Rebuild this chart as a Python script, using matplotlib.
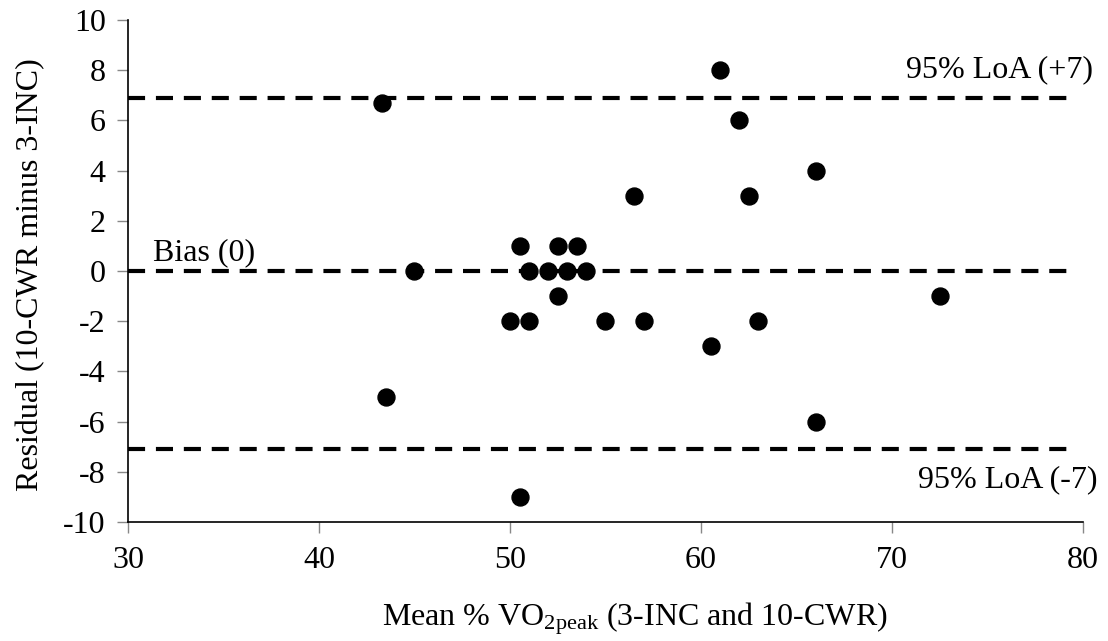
import matplotlib
matplotlib.use("Agg")
import matplotlib.pyplot as plt

plt.rcParams['font.family'] = ['Liberation Serif', 'DejaVu Serif']
plt.rcParams['mathtext.default'] = 'regular'
plt.rcParams['axes.unicode_minus'] = False

mean_vo2 = [43.3, 61.0, 62.0, 66.0, 56.5, 62.5, 50.5, 52.5, 53.5, 45.0, 51.0, 52.0, 53.0, 54.0,
            52.5, 72.5, 50.0, 51.0, 55.0, 57.0, 63.0, 60.5, 43.5, 66.0, 50.5]
residual = [6.7, 8, 6, 4, 3, 3, 1, 1, 1, 0, 0, 0, 0, 0,
            -1, -1, -2, -2, -2, -2, -2, -3, -5, -6, -9]
bias = 0.0
loa_upper = 6.9
loa_lower = -7.1
x_ticks = [30, 40, 50, 60, 70, 80]
y_ticks = [-10, -8, -6, -4, -2, 0, 2, 4, 6, 8, 10]

FS = 23

fig = plt.figure(figsize=(11.08, 6.41), dpi=100)
ax = fig.add_axes([0.1155, 0.1856, 0.8619, 0.7832])

for yv in (loa_upper, bias, loa_lower):
    ax.plot([30, 79.4], [yv, yv], color='black', lw=3.0, dashes=(4.1, 2.6), zorder=2)

ax.plot(mean_vo2, residual, 'o', color='black', markersize=12.2, zorder=3)

ax.set_xlim(30, 80)
ax.set_ylim(-10, 10)
ax.set_xticks(x_ticks)
ax.set_yticks(y_ticks)
ax.tick_params(direction='out', length=8, width=1, color='#888888', labelsize=FS,
               labelcolor='black')
ax.tick_params(axis='x', pad=9)
ax.tick_params(axis='y', pad=8)
for s in ('top', 'right'):
    ax.spines[s].set_visible(False)
for s in ('left', 'bottom'):
    ax.spines[s].set_linewidth(1.2)
    ax.spines[s].set_color('black')

ax.text(80.5, 8.0, '95% LoA (+7)', ha='right', va='center', fontsize=FS, clip_on=False)
ax.text(80.75, -8.3, '95% LoA (-7)', ha='right', va='center', fontsize=FS, clip_on=False)
ax.text(31.3, 0.15, 'Bias (0)', ha='left', va='bottom', fontsize=FS)

fig.text(0.573, 0.035, r'Mean % VO$_{\mathregular{2peak}}$ (3-INC and 10-CWR)',
         fontsize=FS, ha='center', va='center')
fig.text(0.028, 0.572, 'Residual (10-CWR minus 3-INC)', fontsize=FS,
         ha='center', va='center', rotation=90)

fig.savefig('out.png', dpi=100)
